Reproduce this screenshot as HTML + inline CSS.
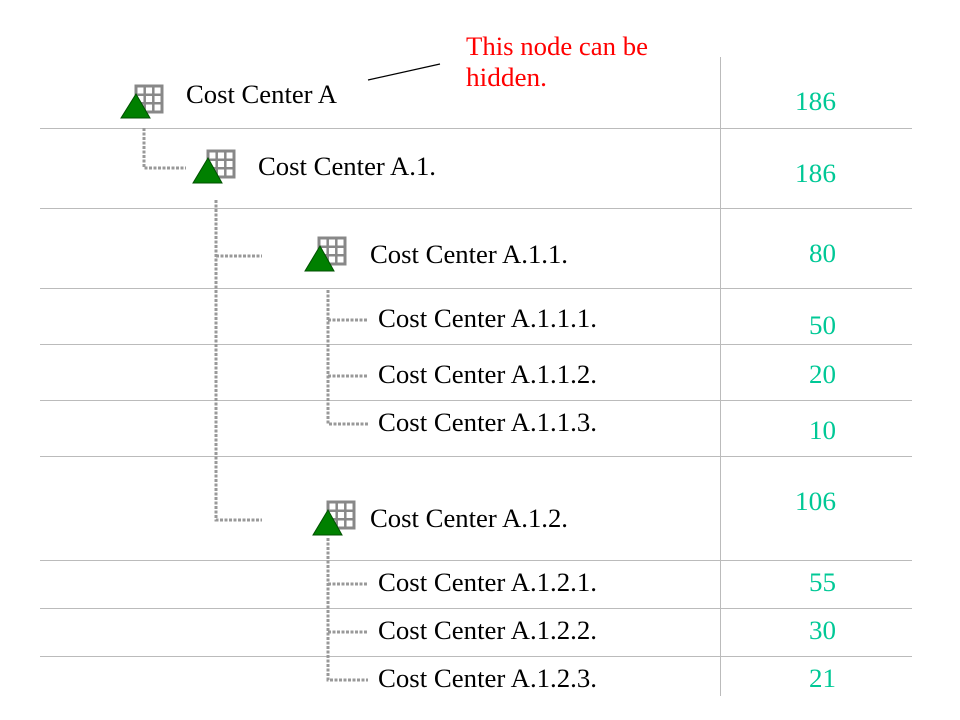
<!DOCTYPE html>
<html><head><meta charset="utf-8"><style>
html,body{margin:0;padding:0;background:#fff;width:960px;height:720px;overflow:hidden}
text{font-family:"Liberation Serif",serif;font-size:26px}
.t{fill:#000}.n{fill:#00c896}.r{fill:#f00}
</style></head><body>
<svg width="960" height="720" xmlns="http://www.w3.org/2000/svg">
<defs>
<g id="ic">
<rect x="0" y="0" width="26" height="26" fill="#fff" stroke="#888" stroke-width="3"/>
<path d="M8.7 0V26M17.3 0V26M0 8.7H26M0 17.3H26" stroke="#888" stroke-width="2.5"/>
</g>
</defs>
<g stroke="#bbb" stroke-width="1">
<line x1="40" y1="128.5" x2="912" y2="128.5"/>
<line x1="40" y1="208.5" x2="912" y2="208.5"/>
<line x1="40" y1="288.5" x2="912" y2="288.5"/>
<line x1="40" y1="344.5" x2="912" y2="344.5"/>
<line x1="40" y1="400.5" x2="912" y2="400.5"/>
<line x1="40" y1="456.5" x2="912" y2="456.5"/>
<line x1="40" y1="560.5" x2="912" y2="560.5"/>
<line x1="40" y1="608.5" x2="912" y2="608.5"/>
<line x1="40" y1="656.5" x2="912" y2="656.5"/>
<line x1="720.5" y1="57" x2="720.5" y2="696"/>
</g>
<g stroke="#999" stroke-width="3" stroke-dasharray="3,1.5" fill="none">
<path d="M144 128V168H186"/>
<path d="M216 200V520H262M216 256H262"/>
<path d="M328 290V424H368M328 320H368M328 376H368"/>
<path d="M328 538V680H368M328 584H368M328 632H368"/>
</g>
<line x1="368" y1="80" x2="440" y2="64" stroke="#000" stroke-width="1.2"/>
<use href="#ic" x="136" y="86"/>
<polygon points="121,118 150,118 136,94" fill="#008000" stroke="#005000" stroke-width="1"/>
<use href="#ic" x="208" y="151"/>
<polygon points="193,183 222,183 208,158" fill="#008000" stroke="#005000" stroke-width="1"/>
<use href="#ic" x="319" y="238"/>
<polygon points="305,271 334,271 320,246" fill="#008000" stroke="#005000" stroke-width="1"/>
<use href="#ic" x="328" y="502"/>
<polygon points="313,535 342,535 328,510" fill="#008000" stroke="#005000" stroke-width="1"/>
<text class="t" x="186" y="103" textLength="151" lengthAdjust="spacingAndGlyphs">Cost Center A</text>
<text class="t" x="258" y="175" textLength="178" lengthAdjust="spacingAndGlyphs">Cost Center A.1.</text>
<text class="t" x="370" y="263" textLength="198" lengthAdjust="spacingAndGlyphs">Cost Center A.1.1.</text>
<text class="t" x="378" y="327" textLength="219" lengthAdjust="spacingAndGlyphs">Cost Center A.1.1.1.</text>
<text class="t" x="378" y="383" textLength="219" lengthAdjust="spacingAndGlyphs">Cost Center A.1.1.2.</text>
<text class="t" x="378" y="431" textLength="219" lengthAdjust="spacingAndGlyphs">Cost Center A.1.1.3.</text>
<text class="t" x="370" y="527" textLength="198" lengthAdjust="spacingAndGlyphs">Cost Center A.1.2.</text>
<text class="t" x="378" y="591" textLength="219" lengthAdjust="spacingAndGlyphs">Cost Center A.1.2.1.</text>
<text class="t" x="378" y="639" textLength="219" lengthAdjust="spacingAndGlyphs">Cost Center A.1.2.2.</text>
<text class="t" x="378" y="687" textLength="219" lengthAdjust="spacingAndGlyphs">Cost Center A.1.2.3.</text>
<text class="n" x="795" y="110" textLength="41" lengthAdjust="spacingAndGlyphs">186</text>
<text class="n" x="795" y="182" textLength="41" lengthAdjust="spacingAndGlyphs">186</text>
<text class="n" x="809" y="262" textLength="27" lengthAdjust="spacingAndGlyphs">80</text>
<text class="n" x="809" y="334" textLength="27" lengthAdjust="spacingAndGlyphs">50</text>
<text class="n" x="809" y="383" textLength="27" lengthAdjust="spacingAndGlyphs">20</text>
<text class="n" x="809" y="439" textLength="27" lengthAdjust="spacingAndGlyphs">10</text>
<text class="n" x="795" y="510" textLength="41" lengthAdjust="spacingAndGlyphs">106</text>
<text class="n" x="809" y="591" textLength="27" lengthAdjust="spacingAndGlyphs">55</text>
<text class="n" x="809" y="639" textLength="27" lengthAdjust="spacingAndGlyphs">30</text>
<text class="n" x="809" y="687" textLength="27" lengthAdjust="spacingAndGlyphs">21</text>
<text class="r" x="466" y="55" textLength="182" lengthAdjust="spacingAndGlyphs">This node can be</text>
<text class="r" x="466" y="86" textLength="81" lengthAdjust="spacingAndGlyphs">hidden.</text>
</svg>
</body></html>
